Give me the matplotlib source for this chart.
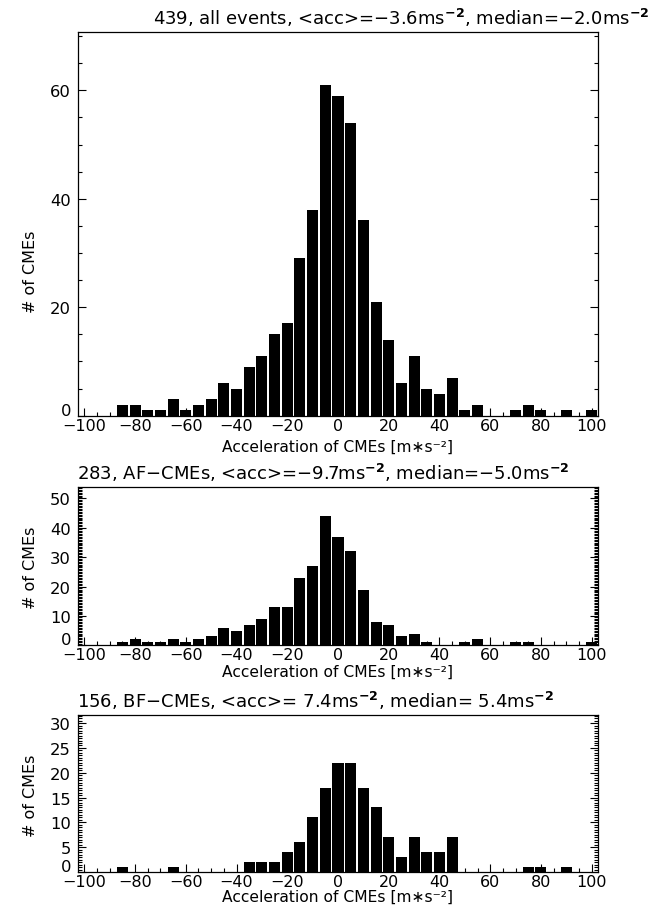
import matplotlib
matplotlib.use("Agg")
import matplotlib.pyplot as plt
import matplotlib.transforms as mtrans
import numpy as np

# bin centres in m s^-2 (5 m s^-2 bins)
centres = list(range(-100, 105, 5))

# counts per bin
all_events = [0, 0, 0, 2, 2, 1, 1, 3, 1, 2, 3, 6, 5, 9, 11, 15, 17, 29, 38, 61,
              59, 54, 36, 21, 14, 6, 11, 5, 4, 7, 1, 2, 0, 0, 1, 2, 1, 0, 1, 0, 1]
af_cmes = [0, 0, 0, 1, 2, 1, 1, 2, 1, 2, 3, 6, 5, 7, 9, 13, 13, 23, 27, 44,
           37, 32, 19, 8, 7, 3, 4, 1, 0, 0, 1, 2, 0, 0, 1, 1, 0, 0, 0, 0, 1]
bf_cmes = [0, 0, 0, 1, 0, 0, 0, 1, 0, 0, 0, 0, 0, 2, 2, 2, 4, 6, 11, 17,
           22, 22, 17, 13, 7, 3, 7, 4, 4, 7, 0, 0, 0, 0, 0, 1, 1, 0, 1, 0, 0]

titles = [
    r"439, all events, <acc>=$-$3.6ms$^{\mathbf{-2}}$, median=$-$2.0ms$^{\mathbf{-2}}$",
    r"283, AF$-$CMEs, <acc>=$-$9.7ms$^{\mathbf{-2}}$, median=$-$5.0ms$^{\mathbf{-2}}$",
    r"156, BF$-$CMEs, <acc>= 7.4ms$^{\mathbf{-2}}$, median= 5.4ms$^{\mathbf{-2}}$",
]
xlabel = "Acceleration of CMEs [m\u2217s\u207b\u00b2]"

W, H = 649, 912
plt.rcParams["font.family"] = "DejaVu Sans"
plt.rcParams["mathtext.fontset"] = "dejavusans"
fs = 11.8

fig = plt.figure(figsize=(W / 100, H / 100), dpi=100)

# (left, top, right, bottom) in pixels, ylim top, major, minor, title x,
# ylabel centre y, xlabel pad
panels = [
    ((78, 32.7, 598, 416.7), 70.8, 20, 5, 153, 272, 4),
    ((78, 488.3, 598, 646.3), 53.8, 10, 0.5, 77, 568, 1),
    ((78, 715.7, 598, 873), 31.7, 5, 0.5, 77, 796, 0),
]
data = [all_events, af_cmes, bf_cmes]

for (box, ytop, major, minor, tx, ly, xpad), counts, title in zip(panels, data, titles):
    l, t, r, b = box
    ax = fig.add_axes([l / W, 1 - b / H, (r - l) / W, (b - t) / H])
    ax.bar(centres, counts, width=4.35, color="black")
    ax.set_xlim(-102.5, 102.5)
    ax.set_ylim(0, ytop)
    ax.set_xticks(range(-100, 101, 20))
    ax.set_xticks(range(-100, 101, 5), minor=True)
    ax.set_yticks(np.arange(0, ytop, major))
    ax.set_yticks(np.arange(0, ytop, minor), minor=True)
    ax.tick_params(which="both", direction="in", left=True, right=True,
                   bottom=True, top=False, labelsize=fs, width=0.8)
    ax.tick_params(axis="x", which="both", pad=1.5, labelsize=11.5)
    ax.tick_params(axis="y", which="both", pad=5)
    ax.tick_params(which="major", length=6)
    ax.tick_params(which="minor", length=3)
    # the "0" label sits a little above its tick, clear of the x labels
    zero = ax.yaxis.get_major_ticks()[0].label1
    zero.set_transform(zero.get_transform()
                       + mtrans.ScaledTranslation(0, 0.07, fig.dpi_scale_trans))
    for s in ax.spines.values():
        s.set_linewidth(0.9)
    ax.set_xlabel(xlabel, fontsize=11.2, labelpad=xpad)
    ax.set_ylabel("# of CMEs", fontsize=11.5)
    ax.yaxis.set_label_coords((38 - l) / (r - l), (b - ly) / (b - t))
    fig.text(tx / W, 1 - (t - 4) / H, title, fontsize=13, ha="left", va="bottom")

fig.savefig("out.png", dpi=100)
